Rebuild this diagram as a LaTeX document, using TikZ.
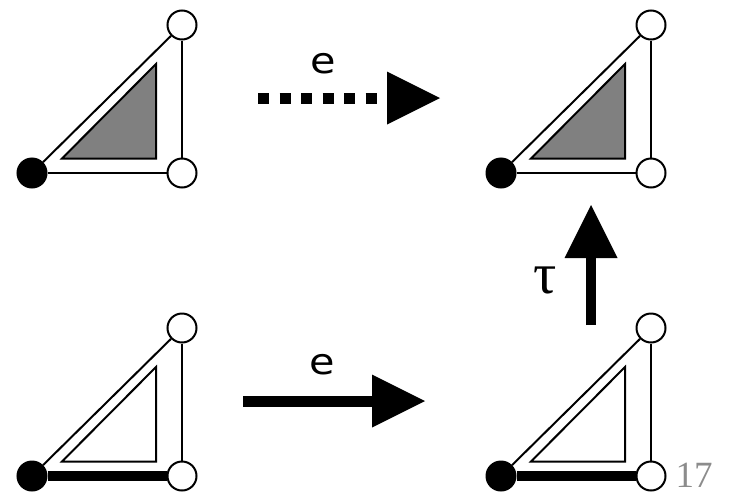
\documentclass[tikz,border=0pt]{standalone}
\usepackage{fontspec}
\setmainfont{Liberation Serif}
\newfontfamily\labelfont{DejaVu Sans}
\usetikzlibrary{arrows.meta}

\begin{document}
\begin{tikzpicture}[x=1pt,y=-1pt,
	vtx/.style={circle, draw, line width=2pt, minimum size=29pt, inner sep=0pt, fill=white},
	root/.style={vtx, fill=black},
	edge/.style={line width=2pt},
	face/.style={line width=2pt, line join=miter},
	bigarrow/.style={line width=11pt, -{Triangle[length=53pt,width=53pt,line width=0pt]}},
	lbl/.style={inner sep=0pt, font=\labelfont\fontsize{36}{40}\selectfont, xscale=1.15}]
	\useasboundingbox (0,0) rectangle (731,493);
	% the four triangles
	\foreach \name/\x/\y/\shade/\lw in {tl/32/173/gray/2pt, tr/501/173/gray/2pt, bl/32/476/white/10pt, br/501/476/white/10pt}{
		\begin{scope}[shift={(\x,\y)}]
			\draw[face, fill=\shade] (30,-14.5) -- (124,-109) -- (124,-14.5) -- cycle;
			\node[root] (\name-a) at (0,0) {};
			\node[vtx] (\name-b) at (150,-148) {};
			\node[vtx] (\name-c) at (150,0) {};
			\draw[edge] (\name-a) -- (\name-b);
			\draw[edge] (\name-b) -- (\name-c);
			\draw[line width=\lw] (\name-a) -- (\name-c);
		\end{scope}
	}
	% arrows
	\coordinate (top-s) at (258,98);
	\coordinate (top-e) at (440,98);
	\draw[bigarrow, dash pattern=on 11pt off 10.5pt] (top-s) -- (top-e);
	\node[lbl] (top-lbl) at (323,64) {e};
	\coordinate (bot-s) at (243,401);
	\coordinate (bot-e) at (425,401);
	\draw[bigarrow] (bot-s) -- (bot-e);
	\node[lbl] (bot-lbl) at (322,365) {e};
	\coordinate (tau-s) at (591,325);
	\coordinate (tau-e) at (591,205);
	\draw[bigarrow, line width=10pt] (tau-s) -- (tau-e);
	\node[inner sep=0pt, font=\fontsize{58}{60}\selectfont] (tau-lbl) at (545,280) {τ};
	\node[inner sep=0pt, text=black!45, font=\fontsize{37}{40}\selectfont] (page) at (694,475) {17};
\end{tikzpicture}
\end{document}
